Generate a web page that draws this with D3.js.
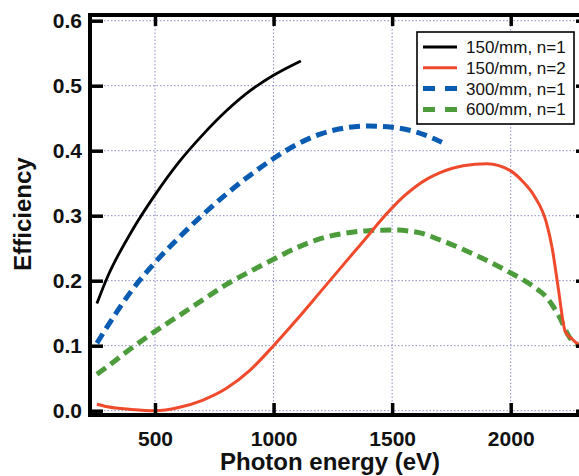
<!DOCTYPE html>
<html><head><meta charset="utf-8">
<script src="https://cdn.jsdelivr.net/npm/d3@7"></script>
<style>body{margin:0;background:#fff}svg{display:block}</style>
</head><body>
<svg id="c" width="579" height="476"></svg>
<script>
const xTicks = [500, 1000, 1500, 2000];
const yTicks = [0.0, 0.1, 0.2, 0.3, 0.4, 0.5, 0.6];
const seriesNames = ["150/mm, n=1", "150/mm, n=2", "300/mm, n=1", "600/mm, n=1"];
const black150n1 = [[255,0.165],[300,0.206],[400,0.275],[500,0.332],[600,0.382],[700,0.424],[800,0.461],[900,0.492],[1000,0.516],[1115,0.538]];
const red150n2 = [[255,0.010],[300,0.006],[400,0.002],[500,0.0],[600,0.005],[700,0.016],[800,0.034],[900,0.062],[1000,0.1],[1100,0.141],[1200,0.184],[1300,0.227],[1400,0.270],[1450,0.292],[1500,0.312],[1550,0.330],[1600,0.345],[1650,0.357],[1700,0.366],[1800,0.377],[1900,0.380],[2000,0.369],[2050,0.353],[2100,0.330],[2150,0.290],[2175,0.250],[2200,0.19],[2230,0.122],[2260,0.110],[2290,0.100]];
const blue300n1 = [[255,0.104],[300,0.130],[400,0.184],[500,0.228],[600,0.266],[700,0.301],[800,0.333],[900,0.362],[1000,0.388],[1100,0.410],[1200,0.426],[1300,0.435],[1400,0.438],[1500,0.436],[1600,0.429],[1710,0.413]];
const green600n1 = [[255,0.056],[300,0.068],[400,0.096],[500,0.122],[600,0.146],[700,0.170],[800,0.194],[900,0.214],[1000,0.233],[1100,0.251],[1200,0.265],[1300,0.273],[1400,0.277],[1500,0.278],[1600,0.275],[1700,0.263],[1800,0.248],[1900,0.231],[2000,0.212],[2100,0.190],[2150,0.175],[2200,0.148],[2250,0.112],[2290,0.100]];

(function () {
const svg = d3.select("#c");
const L = 90, R = 583, T = 15, B = 415;
const x = d3.scaleLinear().domain([500, 2000]).range([155, 510.7]);
const y = d3.scaleLinear().domain([0, 0.6]).range([410.7, 20.7]);
const FF = "Liberation Sans, Arial, sans-serif";

// gridlines
const grid = svg.append("g").attr("stroke", "#8a8ac8").attr("stroke-width", 1).attr("stroke-dasharray", "1.5,2");
grid.selectAll(".gx").data(xTicks).enter().append("line")
  .attr("x1", d => x(d)).attr("x2", d => x(d)).attr("y1", T).attr("y2", B);
grid.selectAll(".gy").data(yTicks).enter().append("line")
  .attr("x1", L).attr("x2", R).attr("y1", d => y(d)).attr("y2", d => y(d));

// curves
const line = d3.line().x(d => x(d[0])).y(d => y(d[1])).curve(d3.curveMonotoneX);
const styles = [
  {data: black150n1, color: "#000000", w: 2.8, dash: null},
  {data: red150n2, color: "#f04a2c", w: 3, dash: null},
  {data: blue300n1, color: "#0a5cb2", w: 5, dash: "11,6"},
  {data: green600n1, color: "#4d9c3c", w: 5, dash: "11,6"}
];
[2, 3, 1, 0].forEach(i => {
  const s = styles[i];
  svg.append("path").datum(s.data).attr("d", line).attr("fill", "none")
    .attr("stroke", s.color).attr("stroke-width", s.w)
    .attr("stroke-dasharray", s.dash);
});

// frame
svg.append("rect").attr("x", L).attr("y", T).attr("width", R - L).attr("height", B - T)
  .attr("fill", "none").attr("stroke", "#000").attr("stroke-width", 4);

// axes with inward ticks
const ax = svg.append("g");
const axB = d3.axisBottom(x).tickValues(xTicks).tickSize(-12).tickPadding(16).tickFormat(d3.format("d"));
const gb = ax.append("g").attr("transform", `translate(0,${B})`).call(axB);
const axT = d3.axisTop(x).tickValues(xTicks).tickSize(-11).tickFormat("");
const gt = ax.append("g").attr("transform", `translate(0,${T})`).call(axT);
const axL = d3.axisLeft(y).tickValues(yTicks).tickSize(-13).tickPadding(8).tickFormat(d3.format(".1f"));
const gl = ax.append("g").attr("transform", `translate(${L},0)`).call(axL);
const axR = d3.axisRight(y).tickValues(yTicks).tickSize(-7).tickFormat("");
const gr = ax.append("g").attr("transform", `translate(${R},0)`).call(axR);
[gb, gt, gl, gr].forEach(g => {
  g.select(".domain").remove();
  g.selectAll(".tick line").attr("stroke", "#000").attr("stroke-width", 3.5);
  g.selectAll("text").attr("font-size", 21).attr("fill", "#111")
    .attr("font-family", FF).attr("font-weight", "bold");
});

// axis titles
svg.append("text").attr("x", 330).attr("y", 470).attr("text-anchor", "middle")
  .attr("font-family", FF).attr("font-weight", "bold")
  .attr("font-size", 24).attr("fill", "#111").text("Photon energy (eV)");
svg.append("text").attr("transform", "translate(31,214) rotate(-90)").attr("text-anchor", "middle")
  .attr("font-family", FF).attr("font-weight", "bold")
  .attr("font-size", 24).attr("fill", "#111").text("Efficiency");

// legend
const lg = svg.append("g");
lg.append("rect").attr("x", 417).attr("y", 32).attr("width", 157).attr("height", 92)
  .attr("fill", "#fff").attr("stroke", "#000").attr("stroke-width", 1.6);
seriesNames.forEach((name, i) => {
  const cy = 47 + i * 20.8;
  const s = styles[i];
  lg.append("line").attr("x1", 423).attr("x2", 457).attr("y1", cy).attr("y2", cy)
    .attr("stroke", s.color).attr("stroke-width", s.dash ? 5 : 3)
    .attr("stroke-dasharray", s.dash ? "12,10" : null);
  lg.append("text").attr("x", 466).attr("y", cy + 6)
    .attr("font-family", FF).attr("font-size", 17)
    .attr("fill", "#111").text(name);
});
})();
</script>
</body></html>
